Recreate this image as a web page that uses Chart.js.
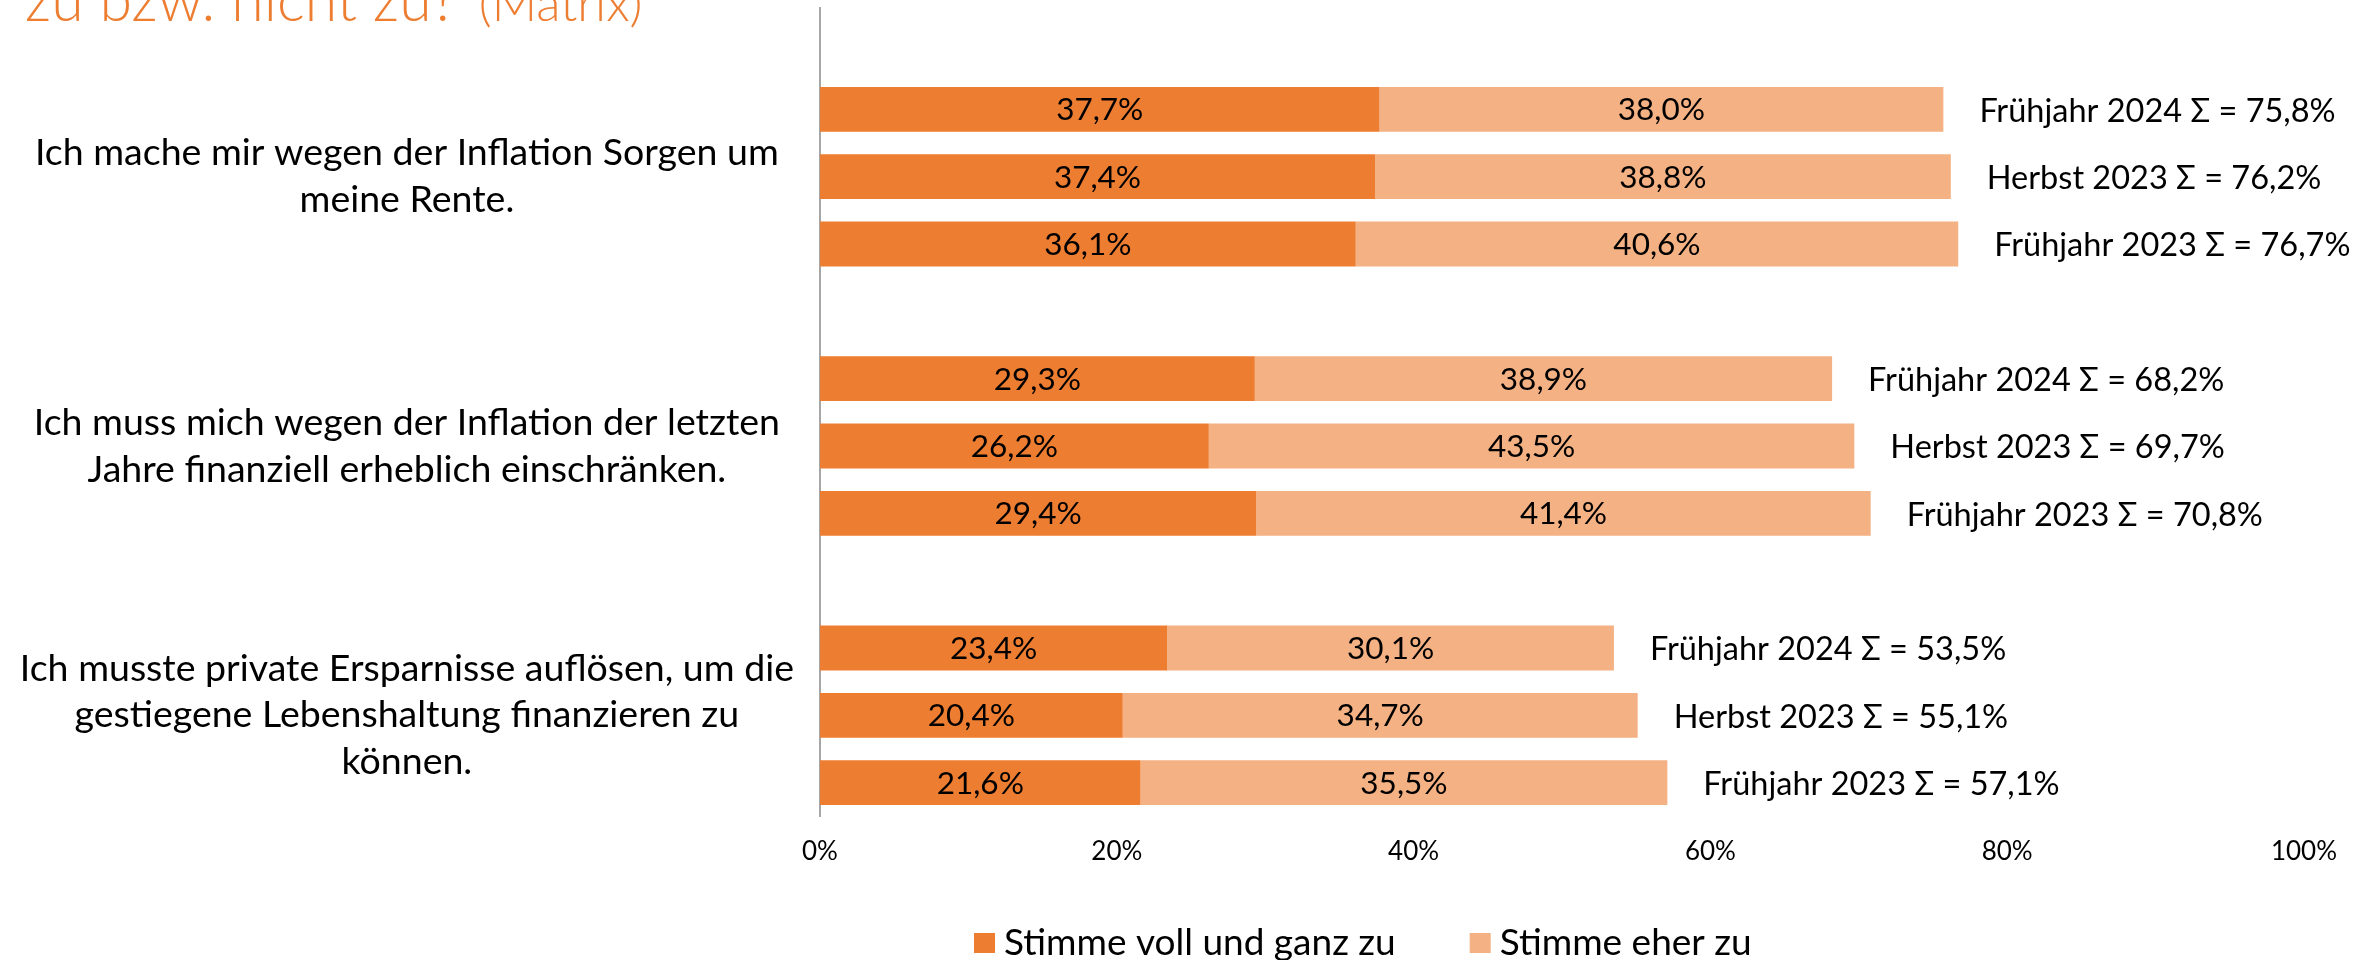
<!DOCTYPE html>
<html lang="de">
<head>
<meta charset="utf-8">
<title>Inflation: Zustimmung zu Aussagen</title>
<script src="https://cdn.jsdelivr.net/npm/chart.js@4.4.1/dist/chart.umd.min.js"></script>
<style>
  html, body { margin: 0; padding: 0; background: #fff; }
  canvas { display: block; }
</style>
</head>
<body>
<canvas id="matrixChart" width="2361" height="960"></canvas>
<script>
const statements = [
  ['Ich mache mir wegen der Inflation Sorgen um', 'meine Rente.'],
  ['Ich muss mich wegen der Inflation der letzten', 'Jahre finanziell erheblich einschränken.'],
  ['Ich musste private Ersparnisse auflösen, um die', 'gestiegene Lebenshaltung finanzieren zu', 'können.']
];
const waves = ['Frühjahr 2024', 'Herbst 2023', 'Frühjahr 2023'];
const answers = ['Stimme voll und ganz zu', 'Stimme eher zu'];

// shares in percent, one value per statement
const fullyF24 = [37.7, 29.3, 23.4];
const ratherF24 = [38.0, 38.9, 30.1];
const fullyH23 = [37.4, 26.2, 20.4];
const ratherH23 = [38.8, 43.5, 34.7];
const fullyF23 = [36.1, 29.4, 21.6];
const ratherF23 = [40.6, 41.4, 35.5];

// published sums (rounded separately)
const totalF24 = [75.8, 68.2, 53.5];
const totalH23 = [76.2, 69.7, 55.1];
const totalF23 = [76.7, 70.8, 57.1];

const xTicks = [0, 20, 40, 60, 80, 100];

const DARK = '#ED7D31';
const LIGHT = '#F4B183';
const FONT = 'Lato';

const fmt = v => v.toFixed(1).replace('.', ',') + '%';

function pair(stack, wave, fully, rather, total) {
  return [
    { label: answers[0], data: fully, backgroundColor: DARK, stack: stack },
    { label: answers[1], data: rather, backgroundColor: LIGHT, stack: stack, wave: wave, total: total }
  ];
}

const datasets = [
  ...pair('f24', waves[0], fullyF24, ratherF24, totalF24),
  ...pair('h23', waves[1], fullyH23, ratherH23, totalH23),
  ...pair('f23', waves[2], fullyF23, ratherF23, totalF23)
];

// value inside each segment, sum label after each bar
const barText = {
  id: 'barText',
  afterDatasetsDraw(chart) {
    const ctx = chart.ctx;
    ctx.save();
    ctx.fillStyle = '#000';
    ctx.textBaseline = 'middle';
    chart.data.datasets.forEach((ds, i) => {
      const meta = chart.getDatasetMeta(i);
      meta.data.forEach((bar, j) => {
        ctx.font = `31.5px ${FONT}`;
        ctx.textAlign = 'center';
        ctx.fillText(fmt(ds.data[j]), (bar.x + bar.base) / 2, bar.y + 1);
        if (ds.total) {
          ctx.font = `32.5px ${FONT}`;
          ctx.textAlign = 'left';
          ctx.fillText(`${ds.wave} Σ = ${fmt(ds.total[j])}`, bar.x + 36, bar.y + 2);
        }
      });
    });
    ctx.restore();
  }
};

// the percent labels straddle the lower plot edge and the value axis line
// runs a bit higher than the category bands, so adjust both boxes after layout
const axisNudge = {
  id: 'axisNudge',
  afterLayout(chart) {
    const { x, y } = chart.scales;
    x.top = chart.chartArea.bottom - 24;
    y.top -= 34;
    y.bottom -= 34;
  }
};

// headline (last line only) and the legend underneath
const decorations = {
  id: 'decorations',
  afterDraw(chart) {
    const ctx = chart.ctx;
    ctx.save();
    ctx.fillStyle = DARK;
    ctx.textBaseline = 'alphabetic';
    ctx.textAlign = 'left';
    ctx.font = `300 59px ${FONT}`;
    const head = 'zu bzw. nicht zu?';
    ctx.fillText(head, 25, 21);
    const headW = ctx.measureText(head).width;
    ctx.font = `300 50px ${FONT}`;
    ctx.fillText('(Matrix)', 25 + headW + 22, 21);

    ctx.font = `37px ${FONT}`;
    ctx.textBaseline = 'middle';
    let x = 974;
    const y = 943;
    [DARK, LIGHT].forEach((color, i) => {
      ctx.fillStyle = color;
      ctx.fillRect(x, y - 10, 21, 20);
      ctx.fillStyle = '#000';
      ctx.fillText(answers[i], x + 30, y);
      x += 30 + ctx.measureText(answers[i]).width + 74;
    });
    ctx.restore();
  }
};

new Chart(document.getElementById('matrixChart'), {
  type: 'bar',
  data: { labels: statements, datasets: datasets },
  options: {
    indexAxis: 'y',
    responsive: false,
    animation: false,
    devicePixelRatio: 1,
    categoryPercentage: 0.75,
    barPercentage: 0.667,
    layout: { padding: { top: 42, right: 57, left: 0, bottom: 0 } },
    plugins: {
      legend: { display: false },
      tooltip: { enabled: false }
    },
    scales: {
      x: {
        stacked: true,
        min: 0,
        max: 100,
        grid: { display: false },
        border: { display: false },
        afterBuildTicks: s => { s.ticks = xTicks.map(v => ({ value: v })); },
        ticks: {
          callback: v => v + '%',
          color: '#000',
          font: { family: FONT, size: 26 },
          padding: 2,
          maxRotation: 0
        },
        afterFit: s => { s.height = 110; s.paddingLeft = 0; s.paddingRight = 0; }
      },
      y: {
        stacked: true,
        grid: { display: false },
        border: { color: '#A6A6A6', width: 2 },
        ticks: {
          color: '#000',
          font: { family: FONT, size: 37.5, lineHeight: 1.25 },
          crossAlign: 'center',
          padding: 18
        },
        afterFit: s => { s.width = 820; s.paddingTop = 0; s.paddingBottom = 0; }
      }
    }
  },
  plugins: [axisNudge, barText, decorations]
});
</script>
</body>
</html>
